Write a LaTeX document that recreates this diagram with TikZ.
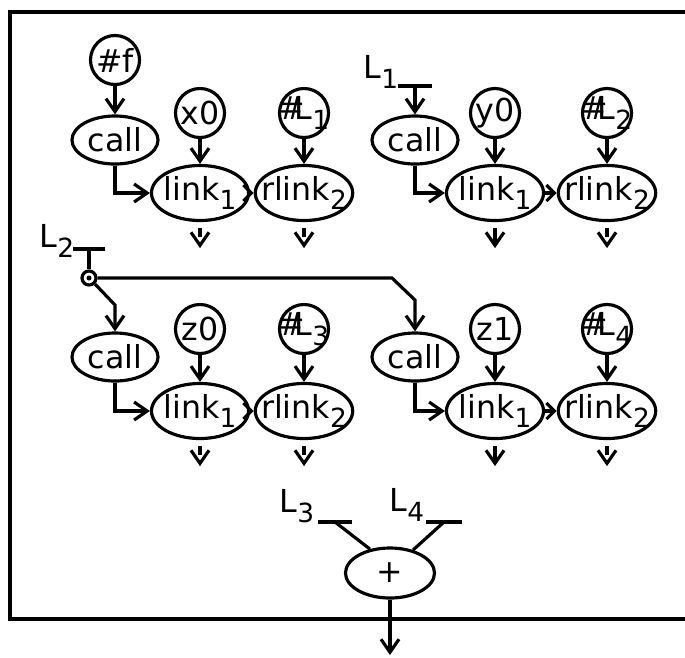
\documentclass[tikz,border=0pt]{standalone}
\usepackage{fontspec}
\setmainfont{DejaVu Sans}
\usetikzlibrary{shapes.geometric,arrows.meta}

\newcommand\low[1]{\raisebox{-0.55ex}{\fontsize{7.5}{7.5}\selectfont #1}}

\tikzset{
	cercle/.style = {draw, circle, minimum size=0.49cm, inner sep=-2.5pt},
	crida/.style = {draw, ellipse, minimum width=0.86cm, minimum height=0.48cm, inner sep=-2.4pt},
	enllac/.style = {draw, ellipse, minimum width=0.97cm, minimum height=0.55cm, inner sep=-2.4pt},
	sortida/.style = {->, dash pattern=on 2.5pt off 1.5pt},
	barra/.style = {line width=1.3pt},
	petita/.style = {-{Straight Barb[length=0.8mm,width=1.6mm]}}
}

\begin{document}
\begin{tikzpicture}[x=0.01cm, y=-0.01cm, line width=0.9pt,
		>={Straight Barb[length=1.3mm,width=1.8mm]}, font=\fontsize{9}{10}\selectfont]
				\useasboundingbox (0,0) rectangle (685,657);
				% marc
				\draw[line width=1.1pt] (685,12) -- (10,12) -- (10,619) -- (685,619);
				% primer grup
				\node[cercle] (f) at (115,60) {\#f};
				\node[crida] (cA) at (115,140) {call};
				\node[cercle] (x0) at (200,113) {x0};
				\node[cercle] (hA) at (304,113) {\#\kern-3pt L\low{1}};
				\node[enllac] (lA) at (200,193) {link\low{1}};
				\node[enllac] (rA) at (304,193) {rlink\low{2}};
				\draw[->] (f) -- (cA);
				\draw[->] (x0) -- (lA);
				\draw[->] (hA) -- (rA);
				\draw[->] (cA.south) |- (lA.west);
				\draw[petita] (lA.east) -- (rA.west);
				\draw[sortida] ([yshift=-0.06cm]lA.south) -- ++(0,20);
				\draw[sortida] ([yshift=-0.06cm]rA.south) -- ++(0,20);
				% segon grup
				\node (tL1) at (381,72) {L\low{1}};
				\coordinate (L1) at (415,86);
				\draw[barra] ([xshift=-0.17cm]L1) -- ([xshift=0.17cm]L1);
				\node[crida] (cB) at (415,140) {call};
				\node[cercle] (y0) at (495,113) {y0};
				\node[cercle] (hB) at (607,113) {\#\kern-3pt L\low{2}};
				\node[enllac] (lB) at (495,193) {link\low{1}};
				\node[enllac] (rB) at (607,193) {rlink\low{2}};
				\draw[->] (L1) -- (cB);
				\draw[->] (y0) -- (lB);
				\draw[->] (hB) -- (rB);
				\draw[->] (cB.south) |- (lB.west);
				\draw[petita] (lB.east) -- (rB.west);
				\draw[->] ([yshift=-0.06cm]lB.south) -- ++(0,20);
				\draw[sortida] ([yshift=-0.06cm]rB.south) -- ++(0,20);
				% bifurcacio de L2
				\node (tL2) at (57,241) {L\low{2}};
				\coordinate (L2) at (89,249);
				\draw[barra] ([xshift=-0.16cm]L2) -- ([xshift=0.16cm]L2);
				\node[draw, circle, minimum size=0.14cm, inner sep=0pt] (punt) at (89,278) {};
				\fill (punt) circle (0.025cm);
				\draw (L2) -- (punt);
				\coordinate (kA) at (392,278);
				\coordinate (kB) at (415,300);
				\coordinate (kC) at (115,305);
				% tercer grup
				\node[crida] (cC) at (115,357) {call};
				\node[cercle] (z0) at (200,329) {z0};
				\node[cercle] (hC) at (304,329) {\#\kern-3pt L\low{3}};
				\node[enllac] (lC) at (200,411) {link\low{1}};
				\node[enllac] (rC) at (304,411) {rlink\low{2}};
				\draw[->] (punt.south east) -- (kC) -- (cC.north);
				\draw[->] (z0) -- (lC);
				\draw[->] (hC) -- (rC);
				\draw[->] (cC.south) |- (lC.west);
				\draw[petita] (lC.east) -- (rC.west);
				\draw[sortida] ([yshift=-0.06cm]lC.south) -- ++(0,20);
				\draw[sortida] ([yshift=-0.06cm]rC.south) -- ++(0,20);
				% quart grup
				\node[crida] (cD) at (415,357) {call};
				\node[cercle] (z1) at (495,329) {z1};
				\node[cercle] (hD) at (607,329) {\#\kern-3pt L\low{4}};
				\node[enllac] (lD) at (495,411) {link\low{1}};
				\node[enllac] (rD) at (607,411) {rlink\low{2}};
				\draw[->] (punt.east) -- (kA) -- (kB) -- (cD.north);
				\draw[->] (z1) -- (lD);
				\draw[->] (hD) -- (rD);
				\draw[->] (cD.south) |- (lD.west);
				\draw[petita] (lD.east) -- (rD.west);
				\draw[->] ([yshift=-0.06cm]lD.south) -- ++(0,20);
				\draw[sortida] ([yshift=-0.06cm]rD.south) -- ++(0,20);
				% suma
				\node (tL3) at (297,506) {L\low{3}};
				\node (tL4) at (407,505) {L\low{4}};
				\coordinate (L3) at (335,522);
				\coordinate (L4) at (444,522);
				\draw[barra] ([xshift=-0.17cm]L3) -- ([xshift=0.17cm]L3);
				\draw[barra] ([xshift=-0.18cm]L4) -- ([xshift=0.18cm]L4);
				\node[draw, ellipse, minimum width=0.89cm, minimum height=0.5cm, inner sep=0pt] (mes) at (390,573) {+};
				\draw (L3) -- (mes.130);
				\draw (L4) -- (mes.45);
				\coordinate (fi) at (390,655);
				\draw[->] (mes.south) -- (fi);
			\end{tikzpicture}
\end{document}
